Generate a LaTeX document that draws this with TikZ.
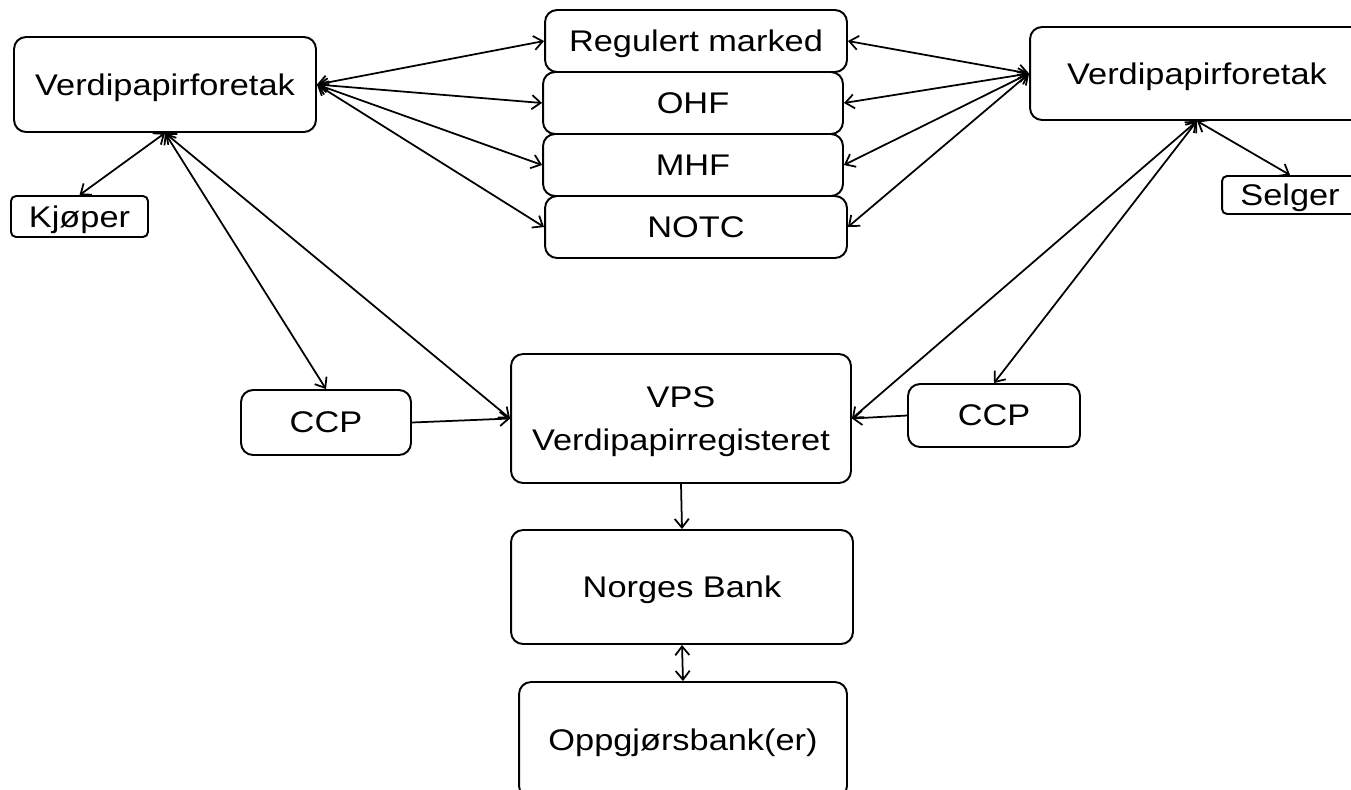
\documentclass[tikz,border=0pt]{standalone}
\usepackage{fontspec}
\setmainfont{Liberation Sans}[FakeStretch=1.15]
\usetikzlibrary{arrows.meta}

\begin{document}
\begin{tikzpicture}[x=0.02cm,y=-0.02cm,>={Straight Barb[length=5pt,width=8pt]},
  box/.style={draw,line width=1.1pt,rounded corners=0.24cm,inner sep=0pt,align=center,
    text depth=0pt,font=\fontsize{17}{24}\selectfont},
  smallbox/.style={box,rounded corners=0.1cm},
  link/.style={line width=1pt}]

\useasboundingbox (0,0) rectangle (1351,789);

% firms and clients
\node[box,minimum width=6.04cm,minimum height=1.9cm] (vfl) at (165,84.5) {Verdipapirforetak};
\node[box,minimum width=6.68cm,minimum height=1.86cm] (vfr) at (1197,73.5) {Verdipapirforetak};
\node[smallbox,minimum width=2.74cm,minimum height=0.82cm] (kjop) at (79.5,216.5) {Kjøper};
\node[smallbox,minimum width=2.72cm,minimum height=0.76cm] (selg) at (1290,195) {Selger};

% market places
\node[box,minimum width=6.04cm,minimum height=1.24cm] (reg) at (696,41) {Regulert marked};
\node[box,minimum width=6cm,minimum height=1.24cm] (ohf) at (693,103) {OHF};
\node[box,minimum width=6cm,minimum height=1.24cm] (mhf) at (693,165) {MHF};
\node[box,minimum width=6.04cm,minimum height=1.24cm] (notc) at (696,227) {NOTC};

% settlement
\node[box,minimum width=3.4cm,minimum height=1.3cm] (ccpl) at (326,422.5) {CCP};
\node[box,minimum width=3.44cm,minimum height=1.26cm] (ccpr) at (994,415.5) {CCP};
\node[box,minimum width=6.8cm,minimum height=2.58cm] (vps) at (681,418.5) {VPS\\Verdipapirregisteret};
\node[box,minimum width=6.84cm,minimum height=2.28cm] (nb) at (682,587) {Norges Bank};
\node[box,minimum width=6.56cm,minimum height=2.32cm] (ob) at (683,740) {Oppgjørsbank(er)};

\foreach \m in {reg,ohf,mhf,notc}{
  \draw[link,<->] (vfl.east) -- (\m.west);
  \draw[link,<->] (vfr.west) -- (\m.east);
}

\draw[link,<->] (vfl.south) -- (kjop.north);
\draw[link,<->] (vfl.south) -- (ccpl.north);
\draw[link,<->] (vfl.south) -- (vps.west);
\draw[link,<->] (vfr.south) -- (vps.east);
\draw[link,<->] (vfr.south) -- (ccpr.north);
\draw[link,<->] (vfr.south) -- (selg.north);

\draw[link,->] (ccpl.east) -- (vps.west);
\draw[link,->] (ccpr.west) -- (vps.east);
\draw[link,->] (vps.south) -- (nb.north);
\draw[link,<->] (nb.south) -- (ob.north);

\end{tikzpicture}
\end{document}
